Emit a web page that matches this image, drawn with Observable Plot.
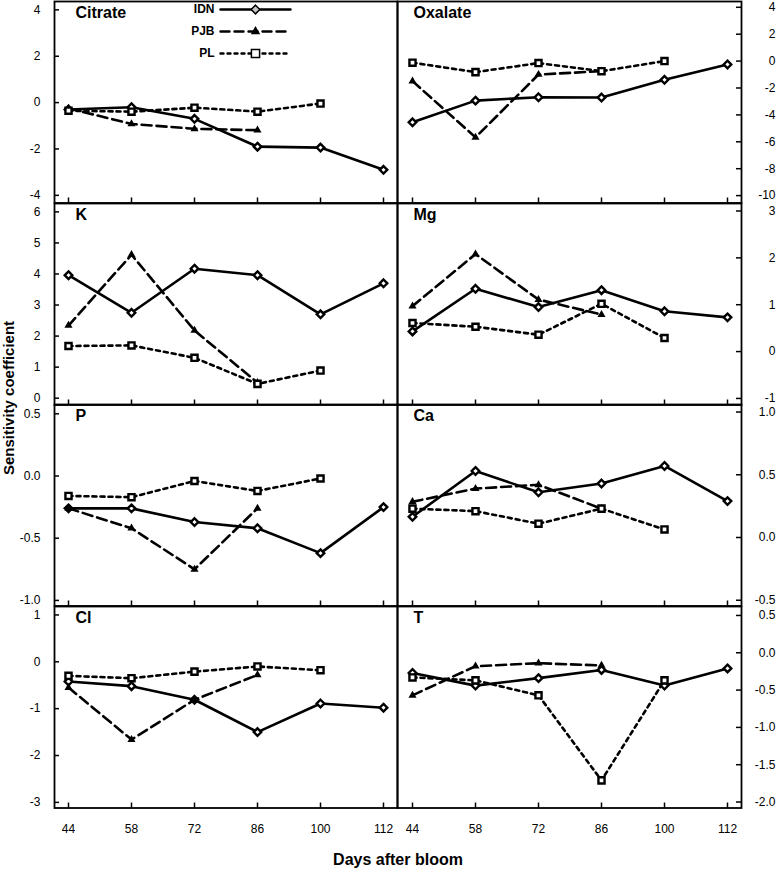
<!DOCTYPE html>
<html>
<head>
<meta charset="utf-8">
<script src="https://cdn.jsdelivr.net/npm/d3@7"></script>
<script src="https://cdn.jsdelivr.net/npm/@observablehq/plot@0.6"></script>
<style>
  html, body { margin: 0; padding: 0; background: white; overflow: hidden; }
  #chart { position: relative; width: 776px; height: 869px; overflow: hidden; font-family: 'Liberation Sans', Arial, sans-serif; }
  #chart svg { position: absolute; }
  .ytitle { position: absolute; width: 400px; left: -191px; top: 388px; height: 20px; line-height: 20px; text-align: center; font-weight: bold; font-size: 15px; transform: rotate(-90deg); transform-origin: 200px 10px; }
  .xtitle { position: absolute; width: 400px; left: 198px; top: 852px; line-height: 16px; text-align: center; font-weight: bold; font-size: 16px; }
</style>
</head>
<body>
<div id="chart"></div>
<script>
// ---- data ----
const days = [44, 58, 72, 86, 100, 112];
const seriesNames = ["IDN", "PJB", "PL"];
const panelNames = ["Citrate", "Oxalate", "K", "Mg", "P", "Ca", "Cl", "T"];
const yAxisTitle = "Sensitivity coefficient";
const xAxisTitle = "Days after bloom";

const citrateIDN = [-0.3, -0.2, -0.7, -1.9, -1.94, -2.9];
const citratePJB = [-0.25, -0.92, -1.13, -1.19];
const citratePL  = [-0.35, -0.39, -0.22, -0.39, -0.04];

const oxalateIDN = [-4.55, -2.94, -2.69, -2.71, -1.39, -0.25];
const oxalatePJB = [-1.49, -5.67, -1.0, -0.75];
const oxalatePL  = [-0.12, -0.82, -0.15, -0.75, 0.0];

const kIDN = [3.96, 2.75, 4.17, 3.96, 2.70, 3.7];
const kPJB = [2.34, 4.62, 2.18, 0.5];
const kPL  = [1.68, 1.70, 1.30, 0.46, 0.89];

const mgIDN = [0.43, 1.34, 0.95, 1.31, 0.86, 0.73];
const mgPJB = [0.97, 2.08, 1.11, 0.79];
const mgPL  = [0.61, 0.53, 0.36, 1.02, 0.29];

const pIDN = [-0.26, -0.26, -0.37, -0.42, -0.62, -0.25];
const pPJB = [-0.26, -0.42, -0.75, -0.26];
const pPL  = [-0.16, -0.17, -0.04, -0.12, -0.02];

const caIDN = [0.165, 0.53, 0.36, 0.43, 0.57, 0.29];
const caPJB = [0.285, 0.39, 0.42, 0.23];
const caPL  = [0.23, 0.21, 0.11, 0.23, 0.064];

const clIDN = [-0.42, -0.52, -0.81, -1.5, -0.89, -0.98];
const clPJB = [-0.55, -1.66, -0.81, -0.28];
const clPL  = [-0.30, -0.35, -0.21, -0.10, -0.18];

const tIDN = [-0.27, -0.44, -0.34, -0.23, -0.44, -0.21];
const tPJB = [-0.57, -0.18, -0.14, -0.17];
const tPL  = [-0.33, -0.37, -0.57, -1.71, -0.37];

// tick values
const citrateTicks = [-4, -2, 0, 2, 4];
const oxalateTicks = [-10, -8, -6, -4, -2, 0, 2, 4];
const kTicks = [0, 1, 2, 3, 4, 5, 6];
const mgTicks = [-1, 0, 1, 2, 3];
const pTicks = [-1.0, -0.5, 0.0, 0.5];
const caTicks = [-0.5, 0.0, 0.5, 1.0];
const clTicks = [-3, -2, -1, 0, 1];
const tTicks = [-2.0, -1.5, -1.0, -0.5, 0.0, 0.5];

// ---- build ----
const intFmt = d => String(d);
const decFmt = d => d.toFixed(1);

const panels = [
  {name: panelNames[0], series: [citrateIDN, citratePJB, citratePL], ticks: citrateTicks, domain: [-4.33, 4.36], fmt: intFmt},
  {name: panelNames[1], series: [oxalateIDN, oxalatePJB, oxalatePL], ticks: oxalateTicks, domain: [-10.55, 4.43], fmt: intFmt},
  {name: panelNames[2], series: [kIDN, kPJB, kPL], ticks: kTicks, domain: [-0.22, 6.27], fmt: intFmt},
  {name: panelNames[3], series: [mgIDN, mgPJB, mgPL], ticks: mgTicks, domain: [-1.14, 3.16], fmt: intFmt},
  {name: panelNames[4], series: [pIDN, pPJB, pPL], ticks: pTicks, domain: [-1.045, 0.575], fmt: decFmt},
  {name: panelNames[5], series: [caIDN, caPJB, caPL], ticks: caTicks, domain: [-0.546, 1.06], fmt: decFmt},
  {name: panelNames[6], series: [clIDN, clPJB, clPL], ticks: clTicks, domain: [-3.12, 1.18], fmt: intFmt},
  {name: panelNames[7], series: [tIDN, tPJB, tPL], ticks: tTicks, domain: [-2.08, 0.62], fmt: decFmt}
];

const dashes = [null, "10,5", "4,4"];
const dotStyles = [
  {symbol: "diamond2", r: 3.4, fill: "white", stroke: "black", strokeWidth: 2.4},
  {symbol: "triangle", r: 3.0, fill: "black"},
  {symbol: "square2", r: 3.9, fill: "white", stroke: "black", strokeWidth: 2.4}
];

const chart = document.getElementById("chart");
const FONT = "'Liberation Sans', Arial, sans-serif";
const rowTop = i => 1 + 201.5 * i;
const rowH = 201.5;

panels.forEach((p, idx) => {
  const col = idx % 2, row = Math.floor(idx / 2);
  const last = row === 3;
  const mb = last ? 40 : 2;
  const marks = [Plot.frame({stroke: "black", strokeWidth: 1.8})];
  p.series.forEach((vals, s) => {
    const data = vals.map((v, i) => ({day: days[i], v}));
    marks.push(Plot.line(data, {x: "day", y: "v", stroke: "black", strokeWidth: 2.6, strokeDasharray: dashes[s]}));
  });
  p.series.forEach((vals, s) => {
    const data = vals.map((v, i) => ({day: days[i], v}));
    marks.push(Plot.dot(data, {x: "day", y: "v", ...dotStyles[s]}));
  });
  marks.push(Plot.axisX(days, {anchor: "bottom", tickSize: -5, tickPadding: 21, strokeWidth: 1.5, label: null,
    tickFormat: last ? (d => String(d)) : (() => ""), fontSize: 12}));
  if (col === 0) {
    marks.push(Plot.axisY(p.ticks, {anchor: "left", tickSize: -5, tickPadding: 19, strokeWidth: 1.5, label: null, tickFormat: p.fmt, fontSize: 12}));
  } else {
    marks.push(Plot.axisY(p.ticks, {anchor: "right", tickSize: -6, tickPadding: 40, textAnchor: "end", strokeWidth: 1.5, label: null, tickFormat: p.fmt, fontSize: 12}));
  }
  marks.push(Plot.text([p.name], {frameAnchor: "top-left", dx: col === 0 ? 21 : 16, dy: 5, lineAnchor: "top", fontSize: 16, fontWeight: "bold", text: d => d}));

  const svg = Plot.plot({
    width: col === 0 ? 398 : 379,
    height: rowH + 2 + mb,
    marginLeft: col === 0 ? 54 : 0,
    marginRight: col === 0 ? 1 : 35,
    marginTop: 2,
    marginBottom: mb,
    x: {type: "point", domain: days, padding: 0.21},
    y: {domain: p.domain},
    style: {background: "transparent", overflow: "visible", fontFamily: FONT, fontSize: "12px", color: "black"},
    marks
  });
  svg.style.left = (col === 0 ? 0 : 397) + "px";
  svg.style.top = (rowTop(row) - 2) + "px";
  chart.appendChild(svg);
});

// legend (inside Citrate panel)
const legendLines = seriesNames.map((s, i) =>
  Plot.line([{s, t: 0}, {s, t: 1}], {x: "t", y: "s", stroke: "black", strokeWidth: 2.4, strokeDasharray: i === 0 ? null : (i === 1 ? "9,5" : "3,4")}));
const legendDotStyles = [
  {symbol: "diamond2", r: 3.9, fill: "#c4c4c4", stroke: "black", strokeWidth: 1.5},
  {symbol: "triangle", r: 3.5, fill: "black"},
  {symbol: "square2", r: 5.2, fill: "white", stroke: "black", strokeWidth: 1.5}
];
const legendDots = seriesNames.map((s, i) => Plot.dot([{s, t: 0.5}], {x: "t", y: "s", ...legendDotStyles[i]}));
const legend = Plot.plot({
  width: 115, height: 62,
  marginLeft: 40, marginRight: 5, marginTop: 9, marginBottom: 9,
  x: {domain: [0, 1], axis: null},
  y: {type: "point", domain: seriesNames, padding: 0, axis: null},
  style: {background: "transparent", overflow: "visible", fontFamily: FONT, fontSize: "12px", color: "black"},
  marks: [
    ...legendLines,
    ...legendDots,
    Plot.text(seriesNames, {x: () => 0, y: d => d, text: d => d, dx: -6, textAnchor: "end", fontWeight: "bold", fontSize: 12})
  ]
});
legend.style.left = "180px";
legend.style.top = "0px";
chart.appendChild(legend);

const yt = document.createElement("div");
yt.className = "ytitle";
yt.textContent = yAxisTitle;
chart.appendChild(yt);
const xt = document.createElement("div");
xt.className = "xtitle";
xt.textContent = xAxisTitle;
chart.appendChild(xt);
</script>
</body>
</html>
